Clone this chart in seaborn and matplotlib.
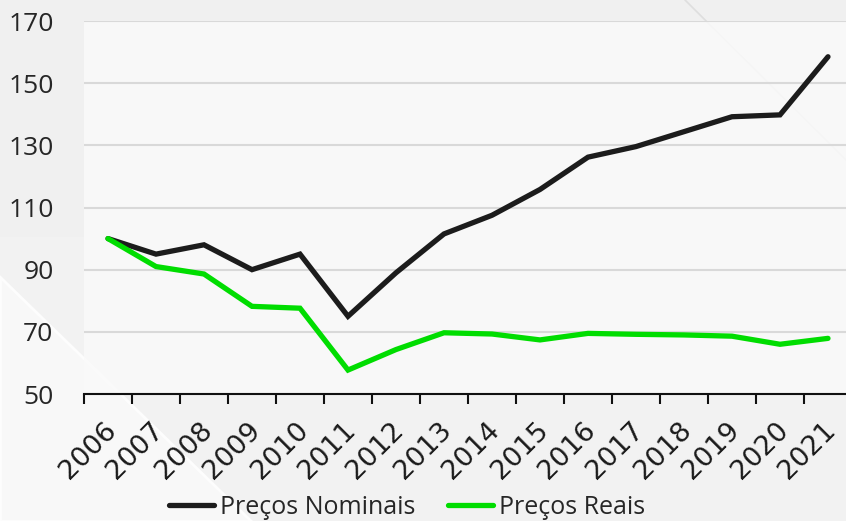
import matplotlib.pyplot as plt
import matplotlib.transforms as mtransforms
from matplotlib.patches import Polygon, Rectangle
from matplotlib.lines import Line2D
import pandas as pd
import seaborn as sns

YEARS = ["2006", "2007", "2008", "2009", "2010", "2011", "2012", "2013",
         "2014", "2015", "2016", "2017", "2018", "2019", "2020", "2021"]
NOMINAL = [100, 95, 98, 90, 95, 75, 89, 101.5,
           107.5, 115.8, 126.2, 129.6, 134.4, 139.2, 139.8, 158.5]
REAL = [100, 91, 88.6, 78.2, 77.6, 57.7, 64.3, 69.7,
        69.3, 67.4, 69.5, 69.2, 69.0, 68.6, 66.0, 67.9]
SERIES = ["Preços Nominais", "Preços Reais"]
COLORS = ["#1c1c1c", "#00dd00"]
Y_TICKS = [50, 70, 90, 110, 130, 150, 170]

FONT = ["Open Sans", "DejaVu Sans"]


def build_frame() -> pd.DataFrame:
    rows = []
    for name, values in zip(SERIES, [NOMINAL, REAL]):
        for year, v in zip(YEARS, values):
            rows.append({"ano": year, "valor": v, "serie": name})
    return pd.DataFrame(rows)


def main() -> None:
    sns.set_style("white")
    plt.rcParams["font.family"] = FONT

    W, H = 846, 521
    fig = plt.figure(figsize=(W / 100, H / 100), dpi=100)
    fig.patch.set_facecolor("#f0f0f0")

    # decorative background shapes (figure pixel coords, y from top)
    def px(x, y):
        return (x / W, 1 - y / H)

    fig.patches.append(Rectangle(px(0, 521), 1, (521 - 237) / H,
                                 transform=fig.transFigure,
                                 facecolor="#f2f2f2", edgecolor="none", zorder=-10))
    fig.patches.append(Polygon([px(0, 277), px(0, 521), px(251, 521)],
                               closed=True, transform=fig.transFigure,
                               facecolor="#f8f8f8", edgecolor="#fdfdfd",
                               linewidth=2, zorder=-9))
    fig.lines.append(Line2D([685 / W, 846 / W], [1, 1 - 160 / H],
                            transform=fig.transFigure, color="#dedede",
                            linewidth=1.2, zorder=-8))

    ax = fig.add_axes([84 / W, 1 - 394 / H, 768 / W, (394 - 21) / H])
    ax.set_facecolor("#fafafa")
    ax.patch.set_alpha(0.85)

    df = build_frame()
    sns.lineplot(data=df, x="ano", y="valor", hue="serie", palette=COLORS,
                 linewidth=3.8, ax=ax, legend=False, sort=False)
    for line in ax.lines:
        line.set_solid_capstyle("round")
        line.set_solid_joinstyle("miter")

    ax.set_xlim(-0.5, len(YEARS) - 0.5)
    ax.set_ylim(50, 170)
    ax.set_yticks(Y_TICKS)
    ax.yaxis.grid(True, color="#d9d9d9", linewidth=1.5)
    ax.set_axisbelow(True)

    ax.set_xticks(range(len(YEARS)))
    ax.set_xticklabels(YEARS, rotation=45, ha="right", va="center",
                       rotation_mode="anchor", fontsize=19.5,
                       family=["DejaVu Sans"], color="#1a1a1a")
    ax.set_xticks([i - 0.5 for i in range(len(YEARS) + 1)], minor=True)
    ax.tick_params(axis="x", which="major", length=0, pad=23)
    ax.tick_params(axis="x", which="minor", bottom=True, length=7, width=1.5,
                   color="#111111")
    offset = mtransforms.ScaledTranslation(3 / 72, 0, fig.dpi_scale_trans)
    for lab in ax.get_xticklabels():
        lab.set_transform(lab.get_transform() + offset)

    ax.tick_params(axis="y", length=0, pad=22, labelsize=19)
    ax.set_xlabel("")
    ax.set_ylabel("")

    for side in ["left", "right", "top"]:
        ax.spines[side].set_visible(False)
    ax.spines["bottom"].set_color("#111111")
    ax.spines["bottom"].set_linewidth(1.5)

    handles = [Line2D([], [], color=c, linewidth=3.8) for c in COLORS]
    fig.legend(handles, SERIES, loc="center", bbox_to_anchor=(407 / W, 1 - 507 / H),
               ncol=2, frameon=False, fontsize=18, handlelength=1.8,
               handletextpad=0.25, columnspacing=1.3)

    fig.savefig("out.png", dpi=100, facecolor=fig.get_facecolor())
    plt.close(fig)


if __name__ == "__main__":
    main()
